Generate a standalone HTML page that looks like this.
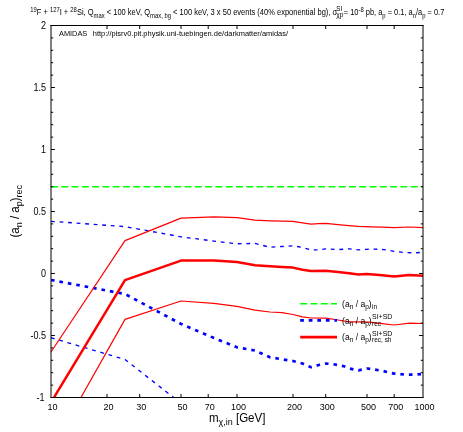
<!DOCTYPE html>
<html>
<head>
<meta charset="utf-8">
<title>AMIDAS plot</title>
<style>
html,body{margin:0;padding:0;background:#fff;}
body{width:463px;height:432px;overflow:hidden;}
svg{display:block;will-change:transform;}
text{font-family:"Liberation Sans",sans-serif;fill:#000;}
</style>
</head>
<body>
<svg width="463" height="432" viewBox="0 0 463 432">
<rect x="0" y="0" width="463" height="432" fill="#ffffff"/>
<defs>
<clipPath id="pc"><rect x="51" y="25.5" width="372" height="372"/></clipPath>
</defs>

<!-- data curves -->
<g clip-path="url(#pc)" fill="none" stroke-linejoin="round">
<!-- green input line -->
<path d="M51 186.8H423" stroke="#00ff00" stroke-width="1.5" stroke-dasharray="7 3.275"/>
<!-- blue upper -->
<polyline id="bu" stroke="#0000ff" stroke-width="1.35" stroke-dasharray="3.8 4.76" points="51,221.3 125,226.6 181,236.8 214,241.1 237,243.8 255,243.4 270,247.3 282,246.5 293,245.8 302.5,247.5 311,250 318.7,249.8 325.7,248.9 338,249.6 349,248.8 358.5,249.8 367,249.3 374.7,249.1 384,249.6 394.2,251.3 405,252.6 414.5,252.8 423,252.3"/>
<!-- blue lower -->
<polyline id="bl" stroke="#0000ff" stroke-width="1.35" stroke-dasharray="3.8 4.76" points="51,337.7 125,359.5 181,403.3"/>
<!-- blue median -->
<polyline id="bm" stroke="#0000ff" stroke-width="2.7" stroke-dasharray="3.6 4.96" points="51,280 125,294 181,323.9 214,338 237,347.3 255,350.5 270,357.3 282,359.3 293,361 302.5,363.5 311,367.2 318.7,365 325.7,363.5 332,364 338,365 344,366.3 349,368.5 354,369.5 358.5,370.4 367,368.5 374.7,369.6 381.7,370.7 394.2,373.6 405,374.6 414.5,374.6 423,374"/>
<!-- red upper -->
<polyline id="ru" stroke="#ff0000" stroke-width="1.2" points="51,352 125,240.6 181,218.1 214,216.8 237,217.6 255,220.2 270,220.9 282,221.2 293,221.4 302.5,222.8 311,224.2 318.7,223.7 325.7,223.3 338,224.6 349,225.6 358.5,226.4 371,226.8 382,227.2 394.2,227.6 409,227 423,227.7"/>
<!-- red lower -->
<polyline id="rl" stroke="#ff0000" stroke-width="1.2" points="51,450.6 125,319.4 181,301 214,303.3 237,306.4 255,310.2 270,312 282,312.7 293,314.5 302.5,316.8 311,318 325.7,318.1 338,320 349,321.8 358.5,321.8 369,322.2 382,323.7 394.2,325 409.8,323.1 423,323.5"/>
<!-- red median -->
<polyline id="rm" stroke="#ff0000" stroke-width="2.5" points="51,402.4 125,280.1 181,260.6 214,260.4 237,262 255,265.2 270,266.3 282,267 293,267.6 302.5,269.8 311,271.1 325.7,270.8 338,272 349,273.2 358.5,274.6 366.6,274 379.6,275.1 394.2,276.6 409,275.1 423,275.8"/>
</g>

<!-- frame -->
<g stroke="#000" stroke-width="1" fill="none">
<path d="M51 25V398M423 25V398"/>
<path d="M50.5 25.5H423.5M50.5 397.5H423.5"/>
</g>
<g id="ticks" stroke="#000" stroke-width="1" fill="none"><path d="M51.0 385.1h2.2M423.0 385.1h-2.2M51.0 372.7h2.2M423.0 372.7h-2.2M51.0 360.3h2.2M423.0 360.3h-2.2M51.0 347.9h2.2M423.0 347.9h-2.2M51.0 335.5h3.9M423.0 335.5h-3.9M51.0 323.1h2.2M423.0 323.1h-2.2M51.0 310.7h2.2M423.0 310.7h-2.2M51.0 298.3h2.2M423.0 298.3h-2.2M51.0 285.9h2.2M423.0 285.9h-2.2M51.0 273.5h3.9M423.0 273.5h-3.9M51.0 261.1h2.2M423.0 261.1h-2.2M51.0 248.7h2.2M423.0 248.7h-2.2M51.0 236.3h2.2M423.0 236.3h-2.2M51.0 223.9h2.2M423.0 223.9h-2.2M51.0 211.5h3.9M423.0 211.5h-3.9M51.0 199.1h2.2M423.0 199.1h-2.2M51.0 186.7h2.2M423.0 186.7h-2.2M51.0 174.3h2.2M423.0 174.3h-2.2M51.0 161.9h2.2M423.0 161.9h-2.2M51.0 149.5h3.9M423.0 149.5h-3.9M51.0 137.1h2.2M423.0 137.1h-2.2M51.0 124.7h2.2M423.0 124.7h-2.2M51.0 112.3h2.2M423.0 112.3h-2.2M51.0 99.9h2.2M423.0 99.9h-2.2M51.0 87.5h3.9M423.0 87.5h-3.9M51.0 75.1h2.2M423.0 75.1h-2.2M51.0 62.7h2.2M423.0 62.7h-2.2M51.0 50.3h2.2M423.0 50.3h-2.2M51.0 37.9h2.2M423.0 37.9h-2.2M107.0 397.5v-3.5M107.0 25.5v3.5M139.7 397.5v-3.5M139.7 25.5v3.5M181.0 397.5v-3.5M181.0 25.5v3.5M208.2 397.5v-3.5M208.2 25.5v3.5M237.0 397.5v-3.5M237.0 25.5v3.5M293.0 397.5v-3.5M293.0 25.5v3.5M325.7 397.5v-3.5M325.7 25.5v3.5M367.0 397.5v-3.5M367.0 25.5v3.5M394.2 397.5v-3.5M394.2 25.5v3.5"/></g>

<!-- legend -->
<g fill="none">
<path d="M300.2 303.75H337" stroke="#00ff00" stroke-width="1.5" stroke-dasharray="7 3.275"/>
<path d="M300.2 320.4H337" stroke="#0000ff" stroke-width="2.9" stroke-dasharray="3.7 4.85"/>
<path d="M300.2 337.2H337" stroke="#ff0000" stroke-width="2.8"/>
</g>
<g font-size="9.5px" id="legtext">
<text transform="translate(342.1,306.5) scale(0.90,1)">(a<tspan font-size="7.3px" dy="2.1">n</tspan><tspan dy="-2.1"> / a</tspan><tspan font-size="7.3px" dy="2.1">p</tspan><tspan dy="-2.1">)</tspan><tspan font-size="7.2px" dy="2.1" dx="0.4">in</tspan></text>
<text transform="translate(342.1,323.5) scale(0.90,1)">(a<tspan font-size="7.3px" dy="2.1">n</tspan><tspan dy="-2.1"> / a</tspan><tspan font-size="7.3px" dy="2.1">p</tspan><tspan dy="-2.1">)</tspan><tspan font-size="7.2px" dy="2.1" dx="0.4">rec</tspan></text>
<text transform="translate(372,318.9) scale(0.96,1)" font-size="7.3px">SI+SD</text>
<text transform="translate(342.1,340.2) scale(0.90,1)">(a<tspan font-size="7.3px" dy="2.1">n</tspan><tspan dy="-2.1"> / a</tspan><tspan font-size="7.3px" dy="2.1">p</tspan><tspan dy="-2.1">)</tspan><tspan font-size="7.2px" dy="2.1" dx="0.4">rec, sh</tspan></text>
<text transform="translate(372,335.6) scale(0.96,1)" font-size="7.3px">SI+SD</text>
</g>

<!-- tick labels -->
<g font-size="10px" text-anchor="end" id="ylab">
<text transform="translate(46.0,28.8) scale(0.905,1)">2</text>
<text transform="translate(46.0,90.8) scale(0.905,1)">1.5</text>
<text transform="translate(46.0,152.8) scale(0.905,1)">1</text>
<text transform="translate(46.0,214.8) scale(0.905,1)">0.5</text>
<text transform="translate(46.0,276.8) scale(0.905,1)">0</text>
<text transform="translate(46.0,338.8) scale(0.905,1)">-0.5</text>
<text transform="translate(44.6,400.8) scale(0.905,1)">-1</text>
</g>
<g font-size="9.6px" text-anchor="middle" id="xlab">
<text transform="translate(52.5,409.65) scale(0.94,1)">10</text>
<text transform="translate(108.5,409.65) scale(0.94,1)">20</text>
<text transform="translate(141.2,409.65) scale(0.94,1)">30</text>
<text transform="translate(182.5,409.65) scale(0.94,1)">50</text>
<text transform="translate(209.7,409.65) scale(0.94,1)">70</text>
<text transform="translate(238.5,409.65) scale(0.94,1)">100</text>
<text transform="translate(294.5,409.65) scale(0.94,1)">200</text>
<text transform="translate(327.2,409.65) scale(0.94,1)">300</text>
<text transform="translate(368.5,409.65) scale(0.94,1)">500</text>
<text transform="translate(395.7,409.65) scale(0.94,1)">700</text>
<text transform="translate(424.5,409.65) scale(0.94,1)">1000</text>
</g>

<!-- axis titles -->
<text id="xt" transform="translate(209,422.4) scale(0.93,1)" font-size="12.4px">m<tspan font-size="9.6px" dy="2.3">χ,in</tspan><tspan dy="-2.3"> [GeV]</tspan></text>
<text id="yt" transform="translate(18.6,237.5) rotate(-90) scale(0.93,1)" font-size="12.4px">(a<tspan font-size="9.6px" dy="3.8">n</tspan><tspan dy="-3.8"> / a</tspan><tspan font-size="9.6px" dy="3.8">p</tspan><tspan dy="-3.8">)</tspan><tspan font-size="9.6px" dy="3.8">rec</tspan></text>

<!-- header -->
<text id="amidas" transform="translate(59,35.7) scale(0.947,1)" font-size="7.8px">AMIDAS</text>
<text id="url" transform="translate(92.8,35.7) scale(0.957,1)" font-size="7.8px">http://pisrv0.pit.physik.uni-tuebingen.de/darkmatter/amidas/</text>
<g id="title" font-size="8.3px">
<text id="t1" transform="translate(30.2,15.3) scale(0.906,1)" xml:space="preserve"><tspan font-size="6.5px" dy="-3.4">19</tspan><tspan dy="3.4">F + </tspan><tspan font-size="6.5px" dy="-3.4">127</tspan><tspan dy="3.4">I + </tspan><tspan font-size="6.5px" dy="-3.4">28</tspan><tspan dy="3.4">Si, Q</tspan><tspan font-size="6.5px" dy="2.3">max</tspan><tspan dy="-2.3"> &lt; 100 keV, Q</tspan><tspan font-size="6.5px" dy="2.3">max, bg</tspan><tspan dy="-2.3"> &lt; 100 keV, 3 x 50 events (40% exponential bg), σ</tspan></text>
<text id="t2a" transform="translate(336.3,11.2) scale(0.92,1)" font-size="6.8px">SI</text>
<text id="t2b" transform="translate(336.3,16.9) scale(0.95,1)" font-size="7px">χp</text>
<text id="t3" transform="translate(343.8,15.3) scale(0.9,1)" xml:space="preserve">= 10<tspan font-size="6.5px" dy="-3.4">-8</tspan><tspan dy="3.4"> pb, a</tspan><tspan font-size="6.5px" dy="2.3">p</tspan><tspan dy="-2.3"> = 0.1, a</tspan><tspan font-size="6.5px" dy="2.3">n</tspan><tspan dy="-2.3">/a</tspan><tspan font-size="6.5px" dy="2.3">p</tspan><tspan dy="-2.3"> = 0.7</tspan></text>
</g>
</svg>
</body>
</html>
